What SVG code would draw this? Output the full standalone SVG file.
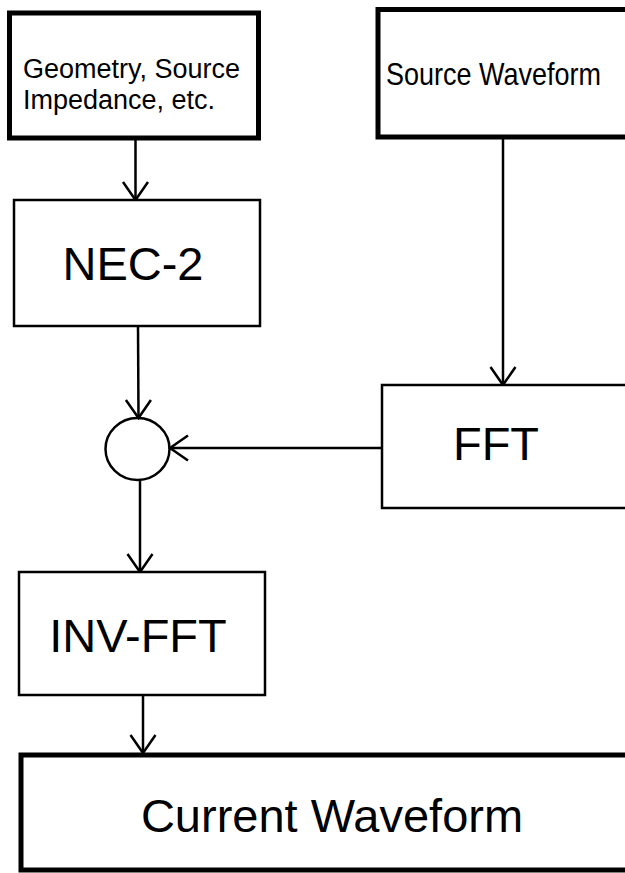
<svg xmlns="http://www.w3.org/2000/svg" width="625" height="873" viewBox="0 0 625 873">
<style>
.box{fill:#fff;stroke:#000;stroke-width:2.5}
.thick{fill:#fff;stroke:#000;stroke-width:5}
.t{font-family:"Liberation Sans",Arial,sans-serif;fill:#000}
.s{font-size:27px}
.b{font-size:47px}
.c{fill:none;stroke:#000;stroke-width:2.5}
</style>
<defs>
<marker id="ah" markerWidth="30" markerHeight="30" refX="20" refY="14" orient="auto" markerUnits="userSpaceOnUse">
<path d="M2,1.5 L20,14 L2,26.5" fill="none" stroke="#000" stroke-width="2.5"/>
</marker>
</defs>
<rect width="625" height="873" fill="#fff"/>
<g id="connectors">
<line class="c" x1="135.5" y1="138" x2="135.5" y2="200" marker-end="url(#ah)"/>
<line class="c" x1="503" y1="137" x2="503" y2="385" stroke-width="3" marker-end="url(#ah)"/>
<line class="c" x1="138" y1="326" x2="138.5" y2="418" marker-end="url(#ah)"/>
<line class="c" x1="382" y1="448" x2="170" y2="448" marker-end="url(#ah)"/>
<line class="c" x1="140" y1="480" x2="140" y2="572" marker-end="url(#ah)"/>
<line class="c" x1="143" y1="695" x2="143" y2="753" marker-end="url(#ah)"/>
</g>
<g id="geometry">
<rect class="thick" x="9.5" y="13" width="249" height="125"/>
<text class="t s" x="23" y="78">Geometry, Source</text>
<text class="t s" x="23" y="109">Impedance, etc.</text>
</g>
<g id="source">
<rect class="thick" x="378" y="9.5" width="252" height="127.5"/>
<text class="t s" transform="translate(386,85) scale(1,1.15)">Source Waveform</text>
</g>
<g id="nec2">
<rect class="box" x="14" y="200" width="246" height="126"/>
<text class="t b" x="133" y="280" text-anchor="middle">NEC-2</text>
</g>
<g id="sum">
<ellipse class="c" cx="137.5" cy="449" rx="32" ry="31"/>
</g>
<g id="fft">
<rect class="box" x="382" y="385" width="250" height="123"/>
<text class="t b" x="496" y="460" text-anchor="middle">FFT</text>
</g>
<g id="invfft">
<rect class="box" x="19" y="572" width="246" height="123"/>
<text class="t b" x="138" y="652" text-anchor="middle" font-size="48">INV-FFT</text>
</g>
<g id="current">
<rect class="thick" x="21" y="755" width="610" height="115"/>
<text class="t b" x="332" y="832" text-anchor="middle" font-size="48">Current Waveform</text>
</g>
</svg>
